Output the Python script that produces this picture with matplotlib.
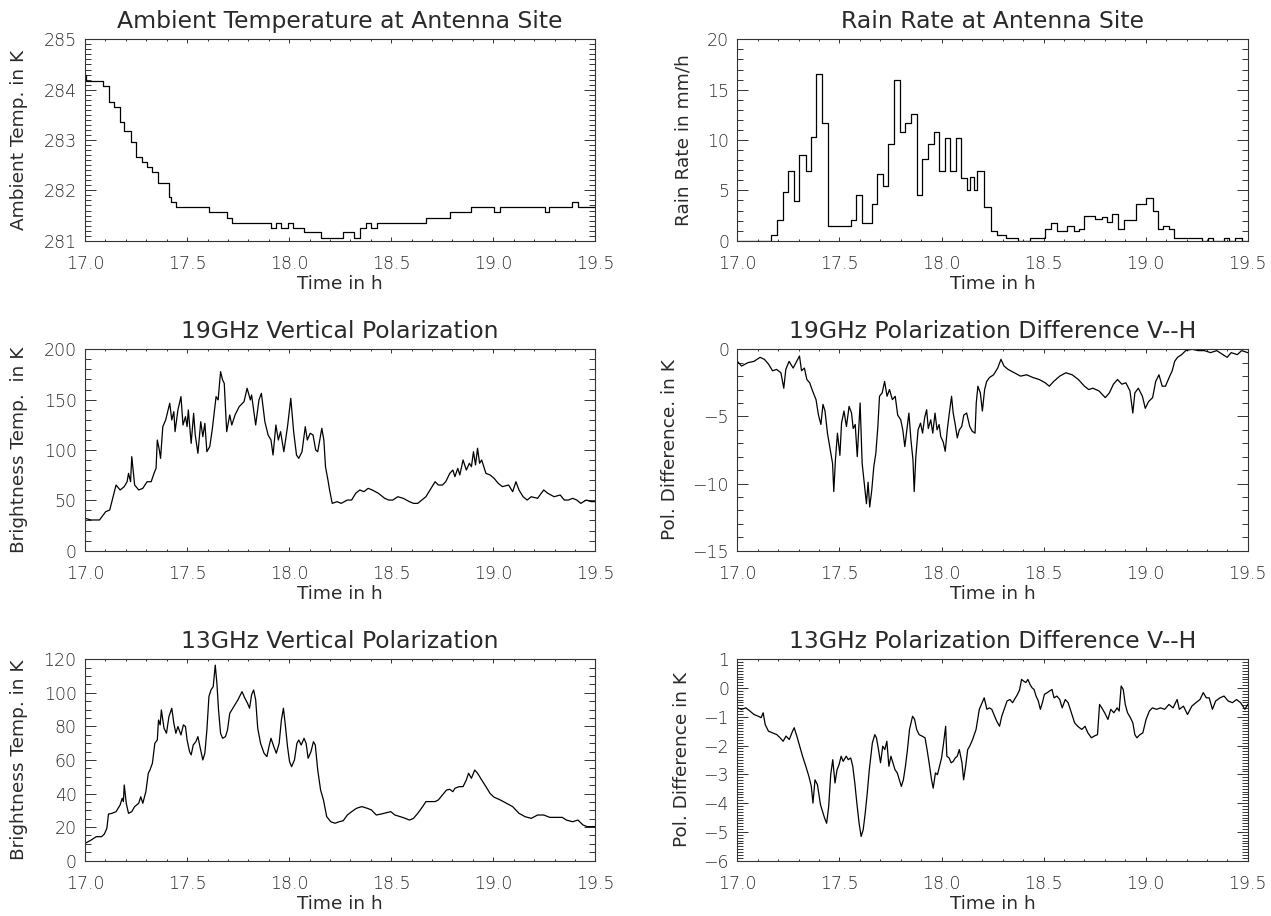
import matplotlib
matplotlib.use('Agg')
import matplotlib.pyplot as plt
from matplotlib.ticker import MultipleLocator, FormatStrFormatter

plt.rcParams['font.family'] = ['DejaVu Sans']
plt.rcParams['font.weight'] = 'light'
TEXT = '#2a2a2a'

# ---- ambient temperature (step data) ----
temp_time = [17.000, 17.004, 17.087, 17.115, 17.142, 17.172, 17.192, 17.225, 17.249, 17.277,
             17.304, 17.330, 17.358, 17.411, 17.421, 17.445, 17.607, 17.694, 17.719, 17.911,
             17.935, 17.962, 17.992, 18.018, 18.073, 18.154, 18.265, 18.318, 18.346, 18.377,
             18.401, 18.431, 18.670, 18.787, 18.892, 19.002, 19.032, 19.251, 19.275, 19.387,
             19.413, 19.500]
temp_val = [284.30, 284.18, 284.07, 283.76, 283.66, 283.36, 283.17, 282.97, 282.67, 282.57,
            282.47, 282.37, 282.15, 281.87, 281.77, 281.66, 281.57, 281.46, 281.36, 281.26,
            281.36, 281.26, 281.36, 281.26, 281.17, 281.06, 281.17, 281.06, 281.26, 281.36,
            281.26, 281.36, 281.46, 281.57, 281.66, 281.57, 281.66, 281.57, 281.66, 281.76,
            281.66, 281.66]

# ---- rain rate (step data) ----
rain_time = [17.000, 17.164, 17.193, 17.223, 17.249, 17.276, 17.304, 17.335, 17.361, 17.387,
             17.414, 17.442, 17.554, 17.580, 17.608, 17.659, 17.685, 17.712, 17.736, 17.766,
             17.797, 17.821, 17.850, 17.878, 17.906, 17.933, 17.963, 17.989, 18.016, 18.040,
             18.071, 18.095, 18.127, 18.140, 18.160, 18.172, 18.206, 18.243, 18.273, 18.318,
             18.375, 18.431, 18.507, 18.537, 18.567, 18.614, 18.648, 18.675, 18.699, 18.754,
             18.784, 18.811, 18.837, 18.865, 18.892, 18.953, 19.003, 19.034, 19.060, 19.084,
             19.115, 19.141, 19.277, 19.303, 19.328, 19.382, 19.409, 19.439, 19.470, 19.500]
rain_val = [0.0, 0.6, 2.1, 4.8, 6.9, 3.9, 8.5, 6.9, 10.3, 16.6,
            11.7, 1.5, 2.1, 4.5, 1.8, 3.6, 6.6, 5.4, 9.6, 16.0,
            10.8, 11.7, 12.6, 4.5, 8.1, 9.6, 10.8, 6.9, 10.2, 6.9,
            10.2, 6.2, 5.0, 6.3, 5.0, 6.9, 3.3, 1.0, 0.6, 0.3,
            0.0, 0.3, 1.2, 1.8, 1.0, 1.5, 1.0, 1.2, 2.5, 2.2,
            2.4, 1.9, 2.7, 1.2, 2.1, 3.6, 4.2, 3.0, 1.2, 1.5,
            1.2, 0.3, 0.0, 0.3, 0.0, 0.3, 0.0, 0.3, 0.0, 0.0]

# ---- 19 GHz vertical polarization ----
v19_time = [17.000, 17.030, 17.071, 17.101, 17.121, 17.152, 17.172, 17.192, 17.206, 17.213,
            17.223, 17.229, 17.243, 17.263, 17.283, 17.304, 17.324, 17.338, 17.348, 17.354,
            17.364, 17.370, 17.381, 17.395, 17.415, 17.425, 17.435, 17.441, 17.455, 17.470,
            17.480, 17.492, 17.500, 17.506, 17.520, 17.532, 17.540, 17.553, 17.567, 17.577,
            17.587, 17.597, 17.611, 17.623, 17.642, 17.652, 17.664, 17.674, 17.682, 17.694,
            17.709, 17.719, 17.735, 17.755, 17.779, 17.794, 17.810, 17.816, 17.836, 17.852,
            17.864, 17.881, 17.897, 17.911, 17.921, 17.935, 17.947, 17.958, 17.974, 17.992,
            18.008, 18.022, 18.036, 18.047, 18.063, 18.079, 18.089, 18.103, 18.117, 18.130,
            18.140, 18.160, 18.170, 18.178, 18.190, 18.198, 18.211, 18.235, 18.255, 18.285,
            18.306, 18.326, 18.346, 18.366, 18.387, 18.407, 18.437, 18.468, 18.488, 18.508,
            18.532, 18.559, 18.589, 18.609, 18.630, 18.650, 18.670, 18.690, 18.715, 18.731,
            18.751, 18.767, 18.787, 18.802, 18.812, 18.826, 18.836, 18.852, 18.868, 18.883,
            18.893, 18.903, 18.913, 18.923, 18.933, 18.943, 18.964, 18.984, 19.004, 19.024,
            19.045, 19.075, 19.095, 19.111, 19.126, 19.146, 19.166, 19.186, 19.217, 19.247,
            19.267, 19.298, 19.328, 19.348, 19.368, 19.389, 19.409, 19.429, 19.455, 19.480,
            19.500]
v19_val = [32.1, 30.5, 30.5, 38.7, 40.4, 65.2, 60.3, 63.6, 68.5, 76.8,
           68.5, 93.4, 65.2, 60.3, 61.9, 68.5, 68.5, 76.8, 81.8, 109.9,
           100.0, 91.7, 123.2, 129.8, 146.4, 129.8, 138.1, 118.2, 139.7, 153.0,
           124.8, 133.1, 123.2, 139.7, 106.6, 136.4, 114.9, 96.7, 128.1, 113.2,
           126.5, 98.3, 103.3, 119.9, 153.0, 149.7, 177.8, 169.5, 166.2, 118.2,
           134.8, 124.8, 134.8, 143.0, 148.0, 161.3, 149.7, 154.6, 124.8, 149.7,
           156.3, 128.1, 114.9, 109.9, 95.0, 124.8, 109.9, 118.2, 98.3, 123.2,
           151.3, 118.2, 95.0, 91.7, 98.3, 123.2, 109.9, 116.6, 114.9, 100.0,
           98.3, 121.5, 109.9, 83.4, 70.2, 60.3, 47.0, 48.7, 47.0, 50.3,
           50.3, 57.0, 60.3, 58.6, 61.9, 60.3, 57.0, 52.0, 50.3, 50.3,
           53.6, 52.0, 48.7, 47.0, 47.0, 50.3, 53.6, 60.3, 68.5, 65.2,
           65.2, 68.5, 76.8, 80.1, 73.5, 81.8, 75.2, 90.1, 80.1, 86.8,
           83.4, 98.3, 85.1, 101.7, 86.8, 90.1, 76.8, 75.2, 71.9, 66.9,
           63.6, 65.2, 58.6, 68.5, 60.3, 53.6, 50.3, 53.6, 52.0, 60.3,
           57.0, 53.6, 55.3, 50.3, 50.3, 52.0, 50.3, 47.0, 50.3, 48.7,
           48.7]

# ---- 19 GHz polarization difference V-H ----
d19_time = [17.000, 17.020, 17.051, 17.081, 17.111, 17.132, 17.152, 17.172, 17.192, 17.213,
            17.227, 17.237, 17.253, 17.273, 17.287, 17.304, 17.314, 17.328, 17.340, 17.354,
            17.368, 17.385, 17.397, 17.409, 17.419, 17.429, 17.441, 17.455, 17.466, 17.472,
            17.480, 17.490, 17.502, 17.510, 17.522, 17.534, 17.547, 17.559, 17.567, 17.577,
            17.587, 17.595, 17.601, 17.611, 17.623, 17.632, 17.640, 17.648, 17.658, 17.668,
            17.678, 17.688, 17.696, 17.709, 17.721, 17.733, 17.745, 17.759, 17.773, 17.785,
            17.800, 17.810, 17.820, 17.830, 17.840, 17.850, 17.860, 17.866, 17.874, 17.885,
            17.897, 17.907, 17.917, 17.927, 17.935, 17.947, 17.957, 17.968, 17.978, 17.988,
            17.996, 18.008, 18.018, 18.028, 18.036, 18.049, 18.057, 18.067, 18.077, 18.087,
            18.099, 18.109, 18.123, 18.138, 18.150, 18.164, 18.170, 18.178, 18.190, 18.200,
            18.211, 18.221, 18.235, 18.255, 18.275, 18.291, 18.306, 18.326, 18.356, 18.387,
            18.417, 18.447, 18.478, 18.508, 18.528, 18.549, 18.579, 18.609, 18.640, 18.670,
            18.700, 18.721, 18.741, 18.771, 18.802, 18.822, 18.842, 18.862, 18.883, 18.903,
            18.923, 18.937, 18.947, 18.964, 18.984, 18.998, 19.014, 19.034, 19.049, 19.065,
            19.081, 19.097, 19.115, 19.130, 19.142, 19.156, 19.176, 19.196, 19.227, 19.257,
            19.287, 19.318, 19.348, 19.379, 19.399, 19.419, 19.449, 19.470, 19.500]
d19_val = [-0.9, -1.25, -1.0, -0.9, -0.6, -0.75, -1.1, -1.6, -1.5, -1.75,
           -2.9, -1.5, -0.9, -1.4, -1.0, -0.5, -1.6, -1.4, -2.25, -2.5,
           -3.1, -3.75, -4.9, -5.6, -4.1, -4.6, -6.25, -7.5, -8.5, -10.6,
           -8.25, -6.25, -7.9, -5.5, -4.6, -5.75, -4.25, -4.75, -5.9, -5.6,
           -8.0, -5.75, -4.0, -8.5, -10.25, -11.5, -9.9, -11.75, -10.5, -8.75,
           -7.75, -5.75, -3.5, -3.25, -2.4, -3.5, -3.0, -3.75, -3.5, -4.9,
           -5.25, -6.0, -7.25, -6.0, -4.75, -6.75, -8.25, -10.6, -8.0, -6.0,
           -5.5, -6.25, -5.1, -4.5, -5.9, -5.25, -6.25, -4.75, -6.0, -5.6,
           -6.5, -6.9, -7.6, -6.0, -5.0, -3.5, -4.75, -5.6, -6.6, -6.0,
           -5.75, -4.9, -4.75, -5.75, -6.1, -6.25, -4.0, -2.75, -3.25, -4.6,
           -3.0, -2.4, -2.1, -1.9, -1.4, -0.75, -1.25, -1.5, -1.75, -2.0,
           -1.9, -2.1, -2.25, -2.5, -2.75, -2.4, -2.0, -1.75, -1.9, -2.25,
           -2.75, -3.0, -2.9, -3.1, -3.6, -3.25, -2.6, -2.25, -2.6, -2.5,
           -3.1, -4.75, -3.25, -2.9, -3.5, -4.4, -3.9, -3.6, -2.4, -1.9,
           -2.75, -2.75, -2.1, -1.6, -0.9, -0.6, -0.4, -0.1, 0.0, -0.1,
           -0.1, -0.25, -0.1, -0.4, -0.6, -0.25, -0.4, -0.1, -0.25]

# ---- 13 GHz vertical polarization ----
v13_time = [17.000, 17.030, 17.055, 17.081, 17.095, 17.107, 17.115, 17.132, 17.152, 17.172,
            17.182, 17.188, 17.192, 17.202, 17.213, 17.229, 17.243, 17.263, 17.273, 17.283,
            17.298, 17.310, 17.318, 17.330, 17.342, 17.354, 17.360, 17.368, 17.374, 17.387,
            17.399, 17.411, 17.425, 17.435, 17.445, 17.455, 17.470, 17.482, 17.492, 17.500,
            17.512, 17.520, 17.530, 17.543, 17.553, 17.563, 17.577, 17.587, 17.597, 17.607,
            17.617, 17.628, 17.638, 17.646, 17.654, 17.664, 17.674, 17.688, 17.698, 17.709,
            17.729, 17.749, 17.769, 17.783, 17.796, 17.806, 17.816, 17.826, 17.836, 17.846,
            17.860, 17.877, 17.891, 17.901, 17.911, 17.925, 17.937, 17.951, 17.962, 17.972,
            17.982, 17.992, 18.002, 18.012, 18.026, 18.038, 18.047, 18.059, 18.073, 18.083,
            18.093, 18.107, 18.119, 18.128, 18.140, 18.154, 18.168, 18.184, 18.204, 18.225,
            18.245, 18.265, 18.285, 18.306, 18.330, 18.356, 18.383, 18.403, 18.427, 18.451,
            18.478, 18.498, 18.518, 18.545, 18.569, 18.589, 18.609, 18.630, 18.654, 18.670,
            18.690, 18.715, 18.731, 18.751, 18.771, 18.787, 18.802, 18.812, 18.832, 18.852,
            18.868, 18.879, 18.893, 18.909, 18.923, 18.943, 18.964, 18.984, 19.004, 19.034,
            19.065, 19.095, 19.126, 19.156, 19.186, 19.217, 19.247, 19.277, 19.308, 19.338,
            19.358, 19.389, 19.415, 19.439, 19.459, 19.500]
v13_val = [10.3, 12.3, 14.3, 14.3, 15.9, 19.3, 27.8, 28.2, 29.2, 33.2,
           37.2, 35.2, 45.1, 34.2, 28.2, 29.2, 32.2, 34.2, 38.1, 34.2,
           41.1, 52.1, 54.0, 58.0, 69.9, 71.9, 83.8, 80.9, 89.8, 78.9,
           75.9, 85.8, 90.8, 81.9, 75.9, 79.9, 74.9, 80.9, 79.9, 71.9,
           65.0, 63.0, 68.9, 70.9, 73.9, 67.9, 60.0, 64.0, 77.9, 97.8,
           101.7, 103.7, 116.5, 105.7, 89.8, 75.9, 72.9, 73.9, 77.9, 87.8,
           91.8, 95.8, 100.7, 96.8, 93.8, 90.8, 98.8, 101.7, 95.8, 78.9,
           69.9, 64.0, 62.0, 67.9, 72.9, 67.9, 64.0, 69.9, 83.8, 90.8,
           79.9, 67.9, 59.0, 56.0, 60.0, 69.9, 71.9, 68.9, 72.9, 69.9,
           61.0, 65.0, 70.9, 68.9, 54.0, 42.1, 36.2, 26.2, 23.2, 22.3,
           23.2, 23.8, 27.2, 29.2, 31.2, 32.2, 31.2, 30.2, 27.2, 27.8,
           28.6, 29.2, 27.2, 26.2, 25.2, 24.2, 25.2, 28.2, 32.2, 35.2,
           35.2, 35.2, 36.2, 39.1, 42.1, 42.5, 41.1, 43.1, 44.1, 44.1,
           48.1, 52.1, 49.1, 54.0, 52.1, 48.1, 44.1, 40.1, 37.8, 36.2,
           34.2, 32.2, 28.2, 26.2, 25.2, 27.2, 27.2, 25.8, 25.8, 25.8,
           24.2, 23.2, 24.2, 21.3, 20.3, 20.3]

# ---- 13 GHz polarization difference V-H ----
d13_time = [17.000, 17.020, 17.041, 17.061, 17.081, 17.102, 17.116, 17.126, 17.136, 17.152,
            17.173, 17.193, 17.209, 17.224, 17.238, 17.254, 17.270, 17.278, 17.291, 17.305,
            17.319, 17.335, 17.350, 17.362, 17.370, 17.380, 17.392, 17.407, 17.417, 17.427,
            17.437, 17.447, 17.457, 17.467, 17.478, 17.488, 17.498, 17.508, 17.518, 17.533,
            17.543, 17.555, 17.565, 17.575, 17.585, 17.596, 17.606, 17.616, 17.626, 17.636,
            17.646, 17.661, 17.673, 17.681, 17.691, 17.701, 17.712, 17.722, 17.732, 17.742,
            17.752, 17.762, 17.772, 17.783, 17.793, 17.803, 17.813, 17.823, 17.833, 17.843,
            17.858, 17.868, 17.878, 17.890, 17.904, 17.919, 17.929, 17.939, 17.951, 17.959,
            17.970, 17.980, 17.990, 18.000, 18.010, 18.020, 18.026, 18.037, 18.047, 18.057,
            18.067, 18.077, 18.087, 18.100, 18.108, 18.118, 18.128, 18.138, 18.152, 18.169,
            18.185, 18.199, 18.209, 18.222, 18.234, 18.246, 18.260, 18.270, 18.284, 18.295,
            18.307, 18.321, 18.335, 18.348, 18.362, 18.372, 18.382, 18.392, 18.402, 18.413,
            18.423, 18.433, 18.443, 18.453, 18.463, 18.474, 18.484, 18.494, 18.504, 18.518,
            18.530, 18.541, 18.551, 18.565, 18.579, 18.591, 18.606, 18.620, 18.636, 18.652,
            18.667, 18.687, 18.703, 18.717, 18.734, 18.748, 18.764, 18.774, 18.785, 18.799,
            18.815, 18.829, 18.844, 18.860, 18.870, 18.880, 18.890, 18.900, 18.911, 18.925,
            18.937, 18.947, 18.957, 18.972, 18.986, 19.002, 19.018, 19.033, 19.053, 19.073,
            19.093, 19.114, 19.134, 19.154, 19.165, 19.185, 19.205, 19.226, 19.246, 19.266,
            19.282, 19.297, 19.311, 19.327, 19.343, 19.364, 19.384, 19.404, 19.425, 19.445,
            19.465, 19.486, 19.500]
d13_val = [-0.69, -0.74, -0.69, -0.80, -0.92, -0.98, -1.03, -0.86, -1.27, -1.50,
           -1.56, -1.62, -1.73, -1.85, -1.67, -1.79, -1.50, -1.38, -1.67, -2.02,
           -2.37, -2.72, -3.07, -3.42, -4.00, -3.19, -3.36, -4.06, -4.29, -4.52,
           -4.70, -4.12, -3.01, -2.49, -3.30, -2.84, -2.66, -2.37, -2.55, -2.37,
           -2.49, -2.43, -2.72, -3.30, -4.00, -4.70, -5.16, -4.93, -4.35, -3.65,
           -2.84, -1.91, -1.62, -1.73, -2.14, -2.60, -2.02, -2.14, -1.85, -2.72,
           -2.37, -2.60, -2.84, -2.95, -3.19, -3.42, -3.19, -2.72, -2.14, -1.44,
           -0.98, -1.09, -1.44, -1.62, -1.67, -1.73, -2.14, -2.60, -3.19, -3.48,
           -2.95, -3.01, -2.72, -2.43, -1.91, -1.33, -2.37, -2.43, -2.60, -2.55,
           -2.43, -2.37, -2.14, -2.60, -3.19, -2.72, -2.14, -2.02, -1.79, -1.44,
           -0.74, -0.51, -0.34, -0.74, -0.69, -0.74, -0.98, -1.15, -1.33, -0.98,
           -0.74, -0.45, -0.40, -0.51, -0.34, -0.22, -0.07, 0.30, 0.24, 0.19,
           0.30, 0.13, 0.01, -0.05, -0.28, -0.45, -0.74, -0.51, -0.22, -0.16,
           -0.10, -0.05, -0.34, -0.28, -0.40, -0.69, -0.40, -0.51, -0.86, -1.21,
           -1.33, -1.44, -1.33, -1.56, -1.73, -1.67, -1.62, -0.57, -0.69, -0.86,
           -1.09, -0.74, -0.86, -0.69, -0.80, 0.07, -0.05, -0.57, -0.86, -1.03,
           -1.21, -1.62, -1.73, -1.62, -1.56, -1.09, -0.80, -0.69, -0.74, -0.69,
           -0.74, -0.57, -0.69, -0.40, -0.74, -0.63, -0.92, -0.63, -0.51, -0.40,
           -0.16, -0.34, -0.34, -0.74, -0.45, -0.34, -0.28, -0.45, -0.51, -0.40,
           -0.51, -0.74, -0.57]


def style_axis(ax, title, ylabel, ylim, ymajor, yminor, ylab_x):
    ax.set_xlim(17.0, 19.5)
    ax.set_ylim(*ylim)
    ax.xaxis.set_major_locator(MultipleLocator(0.5))
    ax.xaxis.set_minor_locator(MultipleLocator(0.1))
    ax.xaxis.set_major_formatter(FormatStrFormatter('%.1f'))
    ax.yaxis.set_major_locator(MultipleLocator(ymajor))
    ax.yaxis.set_minor_locator(MultipleLocator(yminor))
    ax.tick_params(axis='both', which='both', direction='in', top=True, right=True,
                   width=0.7, color='#333333', labelcolor=TEXT)
    ax.tick_params(axis='x', which='major', length=3, pad=10, labelsize=12.5)
    ax.tick_params(axis='x', which='minor', length=1.5)
    ax.tick_params(axis='y', which='major', length=8, pad=6, labelsize=12.5)
    ax.tick_params(axis='y', which='minor', length=4)
    for sp in ax.spines.values():
        sp.set_linewidth(0.8)
        sp.set_color('#333333')
    ax.set_title(title, fontsize=16.9, pad=8, color=TEXT)
    ax.set_xlabel('Time in h', fontsize=13.3, labelpad=2, color=TEXT)
    ax.set_ylabel(ylabel, fontsize=13.3, va='center', color=TEXT)
    ax.yaxis.set_label_coords(ylab_x, 0.5)


fig = plt.figure(figsize=(12.71, 9.16), dpi=100)

col_left = [0.0669, 0.5802]
col_width = 0.4015
row_bottom = [0.7372, 0.3988, 0.0604]
row_height = 0.2199

ax1 = fig.add_axes([col_left[0], row_bottom[0], col_width, row_height])
ax1.plot(temp_time, temp_val, color='black', lw=0.9, drawstyle='steps-post')
style_axis(ax1, 'Ambient Temperature at Antenna Site', 'Ambient Temp. in K',
           (281, 285), 1, 0.1, -0.130)

ax2 = fig.add_axes([col_left[1], row_bottom[0], col_width, row_height])
ax2.plot(rain_time, rain_val, color='black', lw=0.9, drawstyle='steps-post')
style_axis(ax2, 'Rain Rate at Antenna Site', 'Rain Rate in mm/h',
           (0, 20), 5, 1, -0.105)

ax3 = fig.add_axes([col_left[0], row_bottom[1], col_width, row_height])
ax3.plot(v19_time, v19_val, color='black', lw=0.9)
style_axis(ax3, '19GHz Vertical Polarization', 'Brightness Temp.  in K',
           (0, 200), 50, 10, -0.130)

ax4 = fig.add_axes([col_left[1], row_bottom[1], col_width, row_height])
ax4.plot(d19_time, d19_val, color='black', lw=0.9)
style_axis(ax4, '19GHz Polarization Difference V--H', 'Pol. Difference. in K',
           (-15, 0), 5, 1, -0.133)

ax5 = fig.add_axes([col_left[0], row_bottom[2], col_width, row_height])
ax5.plot(v13_time, v13_val, color='black', lw=0.9)
style_axis(ax5, '13GHz Vertical Polarization', 'Brightness Temp. in K',
           (0, 120), 20, 5, -0.130)

ax6 = fig.add_axes([col_left[1], row_bottom[2], col_width, row_height])
ax6.plot(d13_time, d13_val, color='black', lw=0.9)
style_axis(ax6, '13GHz Polarization Difference V--H', 'Pol. Difference in K',
           (-6, 1), 1, 0.1, -0.109)

fig.savefig('out.png', dpi=100)
